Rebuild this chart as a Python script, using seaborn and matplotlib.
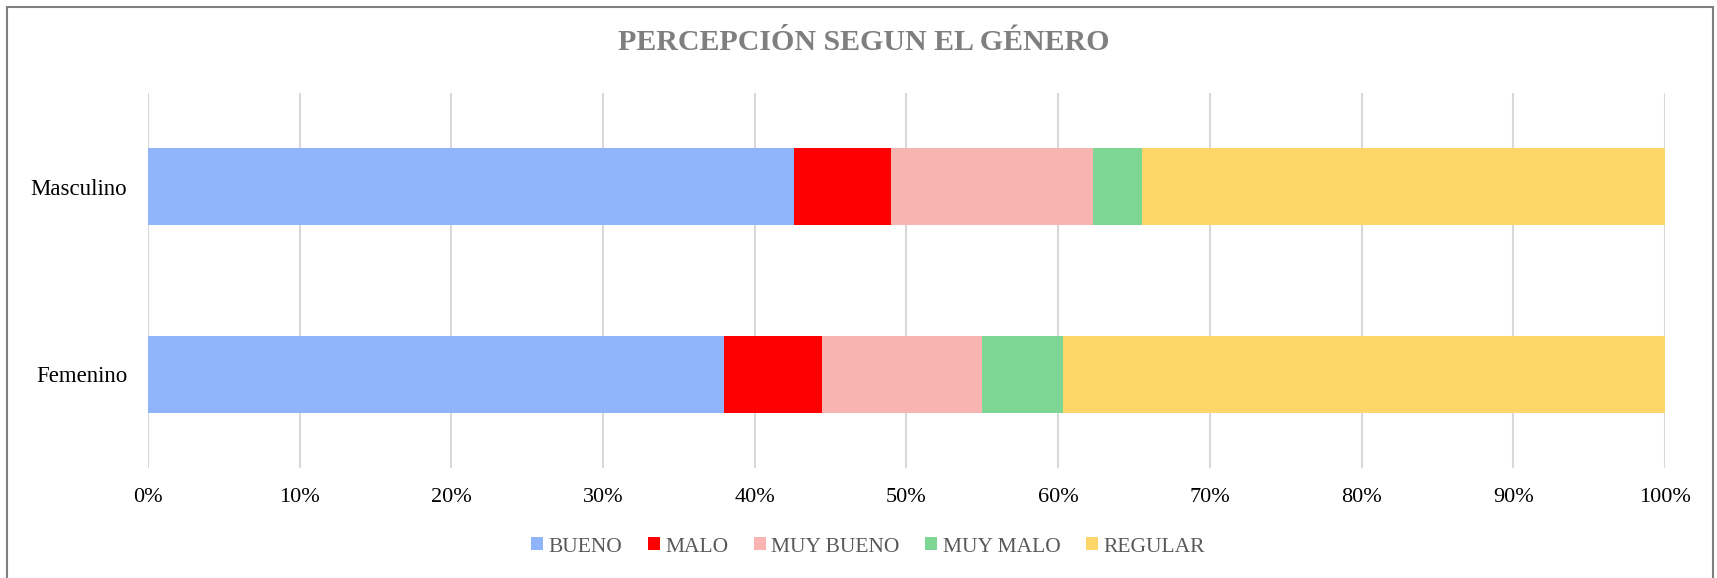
import pandas as pd
import matplotlib
matplotlib.use("Agg")
import matplotlib.pyplot as plt
from matplotlib.patches import Patch, Rectangle
import seaborn as sns

# Data (share of each answer per gender, %)
genders = ["Masculino", "Femenino"]
categories = ["BUENO", "MALO", "MUY BUENO", "MUY MALO", "REGULAR"]
bueno = [42.6, 38.0]
malo = [6.4, 6.4]
muy_bueno = [13.3, 10.6]
muy_malo = [3.2, 5.3]
regular = [34.5, 39.7]
colors = ["#8FB4FA", "#FF0000", "#F7B4B0", "#7ED694", "#FDD66A"]
xticks = [0, 10, 20, 30, 40, 50, 60, 70, 80, 90, 100]

df = pd.DataFrame({"Genero": genders, "BUENO": bueno, "MALO": malo,
                   "MUY BUENO": muy_bueno, "MUY MALO": muy_malo, "REGULAR": regular})
cum = df[categories].cumsum(axis=1)
cum["Genero"] = df["Genero"]

sns.set_theme(style="white")
plt.rcParams["font.family"] = ["Liberation Serif", "DejaVu Serif"]

fig = plt.figure(figsize=(17.17, 5.78), dpi=100)
ax = fig.add_axes([0.0862, 0.1903, 0.8835, 0.6488])

# stacked bars: draw the cumulative totals from the largest down
for cat, col in reversed(list(zip(categories, colors))):
    sns.barplot(data=cum, x=cat, y="Genero", order=genders, color=col,
                saturation=1, width=0.41, linewidth=0, ax=ax, orient="h")

ax.set_xlim(0, 100)
ax.set_ylim(1.5, -0.5)
ax.set_xticks(xticks)
ax.set_xticklabels([f"{t}%" for t in xticks])
ax.set_xlabel("")
ax.set_ylabel("")
ax.grid(axis="x", color="#D9D9D9", linewidth=1.5)
ax.set_axisbelow(True)
for s in ax.spines.values():
    s.set_visible(False)
ax.tick_params(axis="x", length=0, pad=14.5, labelsize=16, labelcolor="#000000")
ax.tick_params(axis="y", length=0, pad=15, labelsize=16.5, labelcolor="#000000")

fig.text(864 / 1717, 1 - 43 / 578, "PERCEPCIÓN SEGUN EL GÉNERO", ha="center", va="center",
         fontsize=21.5, fontweight="bold", color="#7F7F7F")

handles = [Patch(facecolor=c, edgecolor="none") for c in colors]
fig.legend(handles, categories, loc="center", bbox_to_anchor=(868 / 1717, 1 - 547 / 578),
           ncol=5, frameon=False, fontsize=15.5, handlelength=0.55, handleheight=0.55,
           handletextpad=0.25, columnspacing=1.2, labelcolor="#595959")

# chart area border
fig.patches.append(Rectangle((7 / 1717, -0.1), 1706 / 1717, 1.1 - 7 / 578,
                             transform=fig.transFigure, fill=False,
                             edgecolor="#7F7F7F", linewidth=1.5))

fig.savefig("out.png", dpi=100)
